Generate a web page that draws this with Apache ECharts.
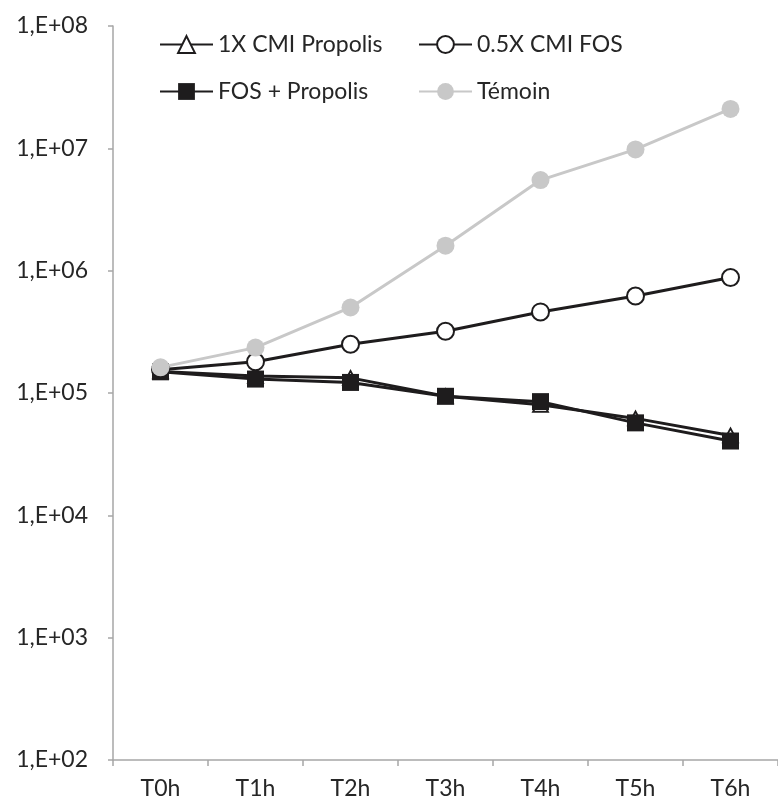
<!DOCTYPE html>
<html>
<head>
<meta charset="utf-8">
<script src="https://cdn.jsdelivr.net/npm/echarts@6/dist/echarts.min.js"></script>
<style>html,body{margin:0;padding:0;background:#fff}#c{width:778px;height:808px}</style>
</head>
<body>
<div id="c"></div>
<script>
const categories = ['T0h', 'T1h', 'T2h', 'T3h', 'T4h', 'T5h', 'T6h'];
const propolis1x = [1.5e5, 1.38e5, 1.33e5, 9.4e4, 8.0e4, 6.2e4, 4.5e4];
const fos05x = [1.55e5, 1.8e5, 2.5e5, 3.2e5, 4.6e5, 6.2e5, 8.8e5];
const fosPropolis = [1.49e5, 1.3e5, 1.22e5, 9.4e4, 8.5e4, 5.7e4, 4.05e4];
const temoin = [1.62e5, 2.35e5, 5.0e5, 1.6e6, 5.5e6, 9.8e6, 2.1e7];
const yTickLabels = ['1,E+02', '1,E+03', '1,E+04', '1,E+05', '1,E+06', '1,E+07', '1,E+08'];
const seriesNames = ['1X CMI Propolis', '0.5X CMI FOS', 'FOS + Propolis', 'Témoin'];

const FONT = 'Lato';
const FS = 23;
const TXT = '#262626';
const DARK = '#1e1c1d';
const GREY = '#c8c8c8';
const AXIS = '#a6a6a6';

function legendAt(name, left, top) {
  return {
    data: [name], left: left, top: top, orient: 'horizontal',
    itemWidth: 53, itemHeight: 21, padding: 0,
    textStyle: { fontFamily: FONT, fontSize: FS, color: TXT },
    selectedMode: false
  };
}

const chart = echarts.init(document.getElementById('c'), null, { renderer: 'canvas' });
chart.setOption({
  animation: false,
  backgroundColor: '#fff',
  textStyle: { fontFamily: FONT },
  legend: [
    legendAt(seriesNames[0], 159, 33),
    legendAt(seriesNames[1], 418, 33),
    legendAt(seriesNames[2], 159, 80),
    legendAt(seriesNames[3], 418, 80)
  ],
  grid: { left: 113, top: 26, width: 674, height: 734, containLabel: false },
  xAxis: {
    type: 'category', data: categories, boundaryGap: true,
    axisLine: { lineStyle: { color: AXIS, width: 1.5 } },
    axisTick: { show: true, interval: 0, length: 6, lineStyle: { color: AXIS, width: 1.5 } },
    axisLabel: { interval: 0, margin: 17, fontFamily: FONT, fontSize: FS, color: TXT },
    splitLine: { show: false }
  },
  yAxis: {
    type: 'log', logBase: 10, min: 100, max: 1e8, splitNumber: 6,
    axisLine: { show: true, lineStyle: { color: AXIS, width: 1.5 } },
    axisTick: { show: true, length: 5, lineStyle: { color: AXIS, width: 1.5 } },
    axisLabel: {
      margin: 25, fontFamily: FONT, fontSize: FS, color: TXT,
      formatter: function (v) { return yTickLabels[Math.round(Math.log10(v)) - 2]; }
    },
    splitLine: { show: false }
  },
  series: [
    {
      name: seriesNames[0], type: 'line', data: propolis1x,
      symbol: 'triangle', symbolSize: [15, 14],
      lineStyle: { color: DARK, width: 3 },
      itemStyle: { color: '#fff', borderColor: DARK, borderWidth: 1.8 }
    },
    {
      name: seriesNames[1], type: 'line', data: fos05x,
      symbol: 'circle', symbolSize: 17,
      lineStyle: { color: DARK, width: 3 },
      itemStyle: { color: '#fff', borderColor: DARK, borderWidth: 2 }
    },
    {
      name: seriesNames[2], type: 'line', data: fosPropolis,
      symbol: 'rect', symbolSize: 17,
      lineStyle: { color: DARK, width: 3 },
      itemStyle: { color: DARK, borderColor: DARK, borderWidth: 0 }
    },
    {
      name: seriesNames[3], type: 'line', data: temoin,
      symbol: 'circle', symbolSize: 18,
      lineStyle: { color: GREY, width: 3 },
      itemStyle: { color: GREY, borderColor: GREY, borderWidth: 0 }
    }
  ]
});
</script>
</body>
</html>
